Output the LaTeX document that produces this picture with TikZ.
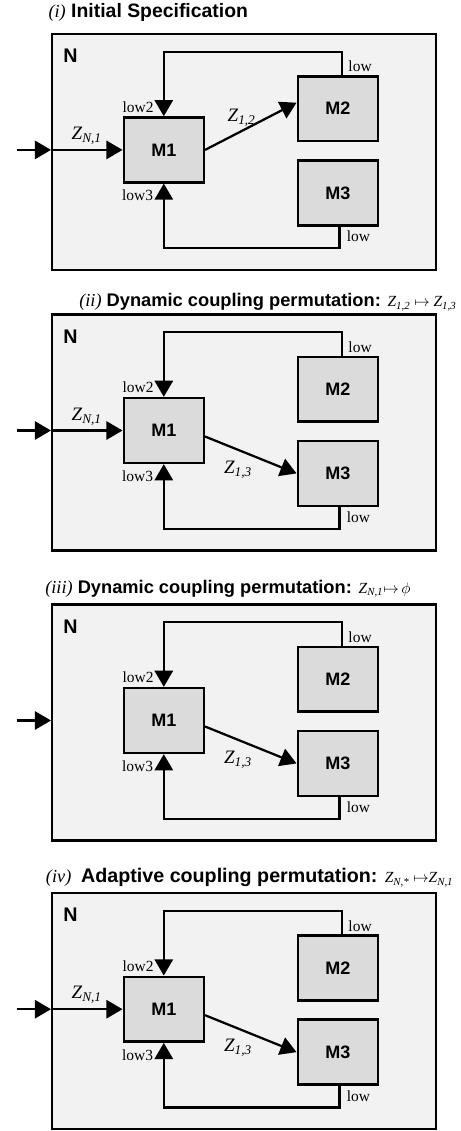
\documentclass[tikz,border=0pt]{standalone}
\usepackage{fontspec}
\setmainfont{Liberation Serif}
\setsansfont{Liberation Sans}
\usepackage{tikz}
\usetikzlibrary{arrows.meta}
\usetikzlibrary{positioning}
\definecolor{netfill}{RGB}{242,242,242}
\definecolor{modfill}{RGB}{219,219,219}
\tikzset{
    netbox/.style={draw, line width=1.7pt, fill=netfill, anchor=north west, inner sep=0pt, minimum width=9.6cm, minimum height=5.9cm},
    netname/.style={anchor=north west, inner sep=0pt, font=\sffamily\bfseries\fontsize{14}{16}\selectfont},
    modbox/.style={draw, line width=1.8pt, fill=modfill, minimum width=2cm, minimum height=1.62cm, font=\sffamily\bfseries\fontsize{12.8}{15}\selectfont},
    flow/.style={line width=1.6pt, -{Triangle[length=11.5pt,width=13pt]}},
    portlabel/.style={inner sep=0pt, font=\fontsize{11}{13}\selectfont},
    zlabel/.style={inner sep=1pt, font=\itshape\fontsize{13.5}{16}\selectfont},
    caption/.style={anchor=base west, inner sep=0pt, font=\sffamily\bfseries\fontsize{13}{15}\selectfont}
}
\newcommand{\zsub}[1]{\textit{Z\textsubscript{#1}}}
\newcommand{\capnum}[1]{{\rmfamily\mdseries\itshape\fontsize{13}{15}\selectfont(#1)}}
\newcommand{\capz}[1]{{\rmfamily\mdseries\fontsize{11}{13}\selectfont #1}}

% network frame: #1 = top left corner, #2 = name suffix
\newcommand{\netframe}[2]{%
    \node[netbox] (N#2) at (#1) {};
    \node[netname] (Nname#2) at ([shift={(0.3,-0.4)}]N#2.north west) {N};
    \node[modbox] (M1#2) at ([shift={(2.82,-2.93)}]N#2.north west) {M1};
    \node[modbox] (M2#2) at ([shift={(7.17,-1.9)}]N#2.north west) {M2};
    \node[modbox, below=0.42cm of M2#2] (M3#2) {M3};
    \coordinate (top#2) at ([yshift=-0.475cm]N#2.north west);
    \coordinate (bot#2) at ([yshift=-5.39cm]N#2.north west);
    \coordinate (up#2) at ([xshift=0.1cm]M2#2.north);
    \coordinate (dn#2) at ([xshift=0.04cm]M3#2.south);
    \coordinate (edge#2) at (N#2.west |- M1#2.west);
    \coordinate (in#2) at ([xshift=-0.86cm]edge#2);
    \draw[flow] (up#2) -- (up#2 |- top#2) -| (M1#2.north);
    \draw[flow] (dn#2) -- (dn#2 |- bot#2) -| (M1#2.south);
    \draw[flow] (in#2) -- (edge#2);
    \node[portlabel, anchor=south west] (lowa#2) at ([shift={(0.16,0.07)}]up#2) {low};
    \node[portlabel, anchor=north west] (lowb#2) at ([shift={(0.18,-0.11)}]dn#2) {low};
    \node[portlabel, anchor=south east] (low2#2) at ([shift={(-0.25,0.09)}]M1#2.north) {low2};
    \node[portlabel, anchor=north east] (low3#2) at ([shift={(-0.26,-0.16)}]M1#2.south) {low3};
}

\begin{document}
\begin{tikzpicture}
    \useasboundingbox (0,0) rectangle (11.525,-28.275);
    % (i) initial specification
    \node[caption, font=\sffamily\bfseries\fontsize{13.8}{15}\selectfont] (cap1) at (1.2075,-0.4325) {\capnum{i} Initial Specification};
    \netframe{1.275,-0.8175}{a}
    \draw[flow] (edgea) -- node[zlabel, above=2pt] (zina) {\zsub{N,1}} (M1a.west);
    \draw[flow] (M1a.east) -- node[zlabel, pos=0.4, above=1.5pt] (zouta) {\zsub{1,2}} ([yshift=0.15cm]M2a.west);
    % (ii) dynamic permutation of the output coupling
    \node[caption] (cap2) at (1.975,-7.6675) {\capnum{ii} Dynamic coupling permutation: \capz{\zsub{1,2} $\mapsto$ \zsub{1,3}}};
    \netframe{1.275,-7.8325}{b}
    \draw[flow] (edgeb) -- node[zlabel, above=2pt] (zinb) {\zsub{N,1}} (M1b.west);
    \draw[flow] ([yshift=-0.15cm]M1b.east) -- node[zlabel, pos=0.36, below=6pt] (zoutb) {\zsub{1,3}} (M3b.west);
    % (iii) dynamic removal of the input coupling
    \node[caption] (cap3) at (1.125,-14.8325) {\capnum{iii} Dynamic coupling permutation: \capz{\zsub{N,1}$\mapsto$\,$\phi$}};
    \netframe{1.275,-15.0825}{c}
    \draw[flow] ([yshift=-0.15cm]M1c.east) -- node[zlabel, pos=0.36, below=6pt] (zoutc) {\zsub{1,3}} (M3c.west);
    % (iv) adaptive permutation
    \node[caption, font=\sffamily\bfseries\fontsize{14}{16}\selectfont] (cap4) at (1.1425,-22.0675) {\capnum{iv}\hspace{0.5em}Adaptive coupling permutation: \capz{\zsub{N,*} $\mapsto$\zsub{N,1}}};
    \netframe{1.275,-22.3}{d}
    \draw[flow] (edged) -- node[zlabel, above=2pt] (zind) {\zsub{N,1}} (M1d.west);
    \draw[flow] ([yshift=-0.15cm]M1d.east) -- node[zlabel, pos=0.36, below=6pt] (zoutd) {\zsub{1,3}} (M3d.west);
\end{tikzpicture}
\end{document}
